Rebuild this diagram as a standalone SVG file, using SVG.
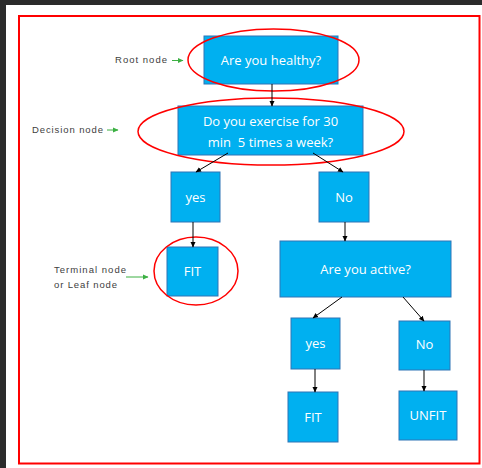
<svg xmlns="http://www.w3.org/2000/svg" width="482" height="468" viewBox="0 0 482 468">
<defs>
<marker id="ah" markerWidth="6" markerHeight="6" refX="5" refY="3" orient="auto" markerUnits="userSpaceOnUse"><path d="M0,0.5 L5.5,3 L0,5.5 Z" fill="#000"/></marker>
<marker id="gh" markerWidth="6" markerHeight="6" refX="5" refY="3" orient="auto" markerUnits="userSpaceOnUse"><path d="M0,0.5 L5.5,3 L0,5.5 Z" fill="#3cb043"/></marker>
</defs>
<style>
.box{fill:#00b0f0;stroke:#2e75b6;stroke-width:1}
.t{fill:#fff;font-family:"Open Sans","Liberation Sans",sans-serif;font-size:13px;text-anchor:middle;dominant-baseline:central;white-space:pre}
.lbl{fill:#404040;font-family:"Liberation Sans","DejaVu Sans",sans-serif;font-size:9.5px}
.ring{fill:none;stroke:#ff0000;stroke-width:1.5}
.c{stroke:#000;stroke-width:1;fill:none;marker-end:url(#ah)}
.g{stroke:#3cb043;stroke-width:1;fill:none;marker-end:url(#gh)}
</style>
<rect x="0" y="0" width="482" height="468" fill="#fff"/>
<rect x="0" y="0" width="482" height="5" fill="#2b2b2b"/>
<rect x="0" y="0" width="6" height="468" fill="#2b2b2b"/>
<rect x="19" y="16" width="460.5" height="447.5" fill="none" stroke="#ff0000" stroke-width="2"/>

<g id="root"><rect class="box" x="204" y="36" width="134" height="48"/><text class="t" x="271" y="60">Are you healthy?</text></g>
<g id="decision"><rect class="box" x="178" y="106" width="185" height="49"/><text class="t" x="270.5" y="121">Do you exercise for 30</text><text class="t" x="270.5" y="142" xml:space="preserve">min  5 times a week?</text></g>
<g id="yes1"><rect class="box" x="171" y="172" width="49" height="50"/><text class="t" x="195.5" y="197">yes</text></g>
<g id="no1"><rect class="box" x="319" y="172" width="50" height="50"/><text class="t" x="344" y="197">No</text></g>
<g id="fit1"><rect class="box" x="167" y="247" width="51" height="49"/><text class="t" x="192.5" y="271">FIT</text></g>
<g id="active"><rect class="box" x="280" y="241" width="171" height="56"/><text class="t" x="365.5" y="269">Are you active?</text></g>
<g id="yes2"><rect class="box" x="291" y="318" width="49" height="51"/><text class="t" x="315.5" y="343">yes</text></g>
<g id="no2"><rect class="box" x="399" y="321" width="51" height="49"/><text class="t" x="424.5" y="344">No</text></g>
<g id="fit2"><rect class="box" x="288" y="392" width="50" height="50"/><text class="t" x="313" y="417">FIT</text></g>
<g id="unfit"><rect class="box" x="399" y="391" width="58" height="49"/><text class="t" x="428" y="415">UNFIT</text></g>

<g id="highlights">
<ellipse class="ring" cx="273.5" cy="60" rx="85.5" ry="31"/>
<ellipse class="ring" cx="271" cy="131.5" rx="133" ry="33.5"/>
<ellipse class="ring" cx="196" cy="271" rx="42" ry="34"/>
</g>

<g id="connectors">
<line class="c" x1="272" y1="84" x2="272" y2="106"/>
<line class="c" x1="228" y1="153" x2="196" y2="172"/>
<line class="c" x1="313" y1="153" x2="343" y2="172"/>
<line class="c" x1="193" y1="222" x2="193" y2="247"/>
<line class="c" x1="345" y1="222" x2="345" y2="241"/>
<line class="c" x1="342" y1="297" x2="313" y2="318"/>
<line class="c" x1="403" y1="297" x2="424" y2="321"/>
<line class="c" x1="315" y1="369" x2="315" y2="392"/>
<line class="c" x1="424" y1="370" x2="424" y2="391"/>
</g>

<g id="labels">
<text class="lbl" x="115" y="63" textLength="52">Root node</text>
<line class="g" x1="172" y1="60.5" x2="183" y2="60.5"/>
<text class="lbl" x="32" y="132.5" textLength="71">Decision node</text>
<line class="g" x1="107" y1="130" x2="118" y2="130"/>
<text class="lbl" x="54" y="272.5" textLength="72">Terminal node</text>
<text class="lbl" x="54" y="288" textLength="63">or Leaf node</text>
<line class="g" x1="126" y1="277" x2="148" y2="277"/>
</g>
</svg>
